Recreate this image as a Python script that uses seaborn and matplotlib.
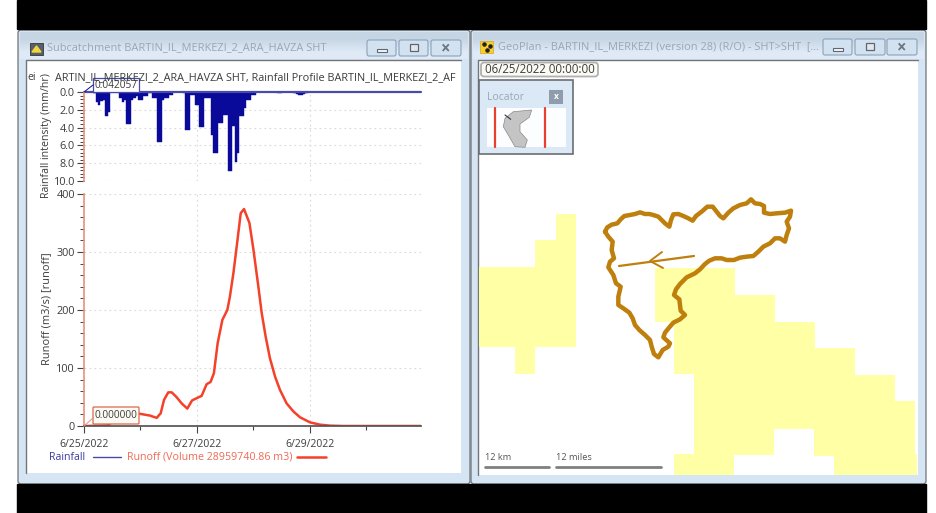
import matplotlib
matplotlib.use('Agg')
import numpy as np
import pandas as pd
import seaborn as sns
import matplotlib.pyplot as plt
from matplotlib.colors import LinearSegmentedColormap
from matplotlib.patches import FancyBboxPatch, Rectangle, Polygon
from matplotlib.ticker import MultipleLocator

# rainfall, one value per hour from 6/25/2022 00:00
rain_mm = [0, 0, 0, 0, 0.1, 1.1, 1.45, 1.0, 0.9, 2.65, 2.3, 0.05, 0, 0.05, 0.05,
           0.65, 1.1, 0.9, 3.6, 3.6, 0.9, 0.7, 0.5, 0.9, 0.9, 0.5, 0.5, 0.15, 0.15, 0.65,
           0.65, 5.6, 5.6, 0.9, 0.65, 0.65, 0.3, 0.3, 0, 0, 0, 0.05, 0.1, 4.25, 4.25,
           0.35, 0.35, 1.45, 1.45, 3.95, 3.95, 0.7, 0.7, 0.7, 4.8, 6.8, 6.8, 3.5, 3.5, 2.6,
           2.6, 8.9, 8.9, 3.8, 7.9, 6.8, 2.75, 2.75, 1.85, 0.9, 0.9, 0.3, 0.3, 0, 0,
           0, 0, 0, 0, 0, 0, 0, 0.1, 0.1, 0, 0, 0, 0, 0, 0.1, 0.2, 0.3, 0.3, 0.2, 0.1]
rain_hours = [h + 0.5 for h in range(len(rain_mm))]

# runoff hydrograph
runoff_hours = [0, 7, 10, 13, 16, 19, 23.8, 28, 30.9, 32.6, 34, 35.8, 37.3, 39.4, 41.5, 43.9,
                45.9, 47.9, 50, 52.1, 53.8, 55.2, 56.8, 58.8, 60.9, 62, 63.5, 64.9, 66.6, 68,
                70.3, 72, 74.1, 75.5, 77.2, 79, 81.2, 83.3, 86.1, 89, 91.8, 96, 100.3, 104.5,
                110.2, 143]
runoff_m3s = [0, 0.5, 1, 10, 20, 22, 21, 18, 14, 22, 45, 58, 58, 49.5, 39, 30,
              44, 48, 52, 72, 76, 91, 143, 183, 200, 223, 264, 310, 367, 374,
              350, 304, 240, 195, 154, 117, 85, 62, 39, 25, 15, 6.3, 2.3, 0.6,
              0, 0]

date_ticks = [0, 48, 96]
date_labels = ['6/25/2022', '6/27/2022', '6/29/2022']

# catchment outline traced at 3x, offset below to screen pixels
trace_x = [45, 52, 65, 82, 92, 103, 120, 135, 150, 165, 178, 190, 205, 215, 225, 238, 243, 250, 265,
           280, 295, 308, 318, 335, 352, 368, 380, 390, 400, 415, 430, 450, 470, 483, 495, 510, 522,
           522, 540, 560, 585, 603, 600, 590, 597, 590, 585, 570, 555, 540, 520, 505, 490, 470, 450,
           432, 410, 395, 375, 358, 345, 330, 315, 290, 270, 258, 252, 268, 270, 272, 285, 270, 250,
           238, 225, 220, 240, 235, 218, 205, 192, 185, 180, 165, 148, 135, 128, 118, 100, 85, 85,
           92, 78, 70, 55, 60, 72, 65, 68, 55, 45]
trace_y = [125, 112, 104, 100, 88, 78, 75, 72, 67, 72, 72, 75, 80, 90, 100, 110, 90, 73, 72,
           78, 85, 92, 78, 65, 50, 50, 65, 78, 85, 68, 55, 45, 40, 28, 40, 42, 48,
           68, 72, 70, 68, 62, 80, 95, 115, 135, 155, 145, 145, 160, 170, 185, 198, 200, 203,
           210, 210, 205, 205, 212, 222, 238, 250, 262, 282, 298, 315, 328, 345, 362, 375, 388, 398,
           412, 428, 442, 460, 470, 480, 502, 492, 470, 450, 435, 420, 405, 385, 368, 355, 345, 320,
           290, 280, 255, 232, 215, 205, 180, 155, 140, 125]
catch_x = 590 + np.array(trace_x) / 3
catch_y = 190 + np.array(trace_y) / 3

# map shapes, in screen pixels
reach_x = [619, 694]
reach_y = [266, 256]
barb_x = [662, 650, 663]
barb_y = [252, 261, 268]
yellow_left = [(479, 267), (535, 267), (535, 240), (556, 240), (556, 214), (576, 214), (576, 347),
               (535, 347), (535, 374), (515, 374), (515, 347), (479, 347)]
yellow_right = [(655, 268), (735, 268), (735, 295), (775, 295), (775, 322), (815, 322), (815, 348),
                (855, 348), (855, 375), (895, 375), (895, 401), (915, 401), (915, 454), (917, 454),
                (917, 475), (834, 475), (834, 456), (814, 456), (814, 429), (774, 429), (774, 455),
                (734, 455), (734, 475), (674, 475), (674, 454), (694, 454), (694, 374), (674, 374),
                (674, 322), (655, 322)]
locator_shape = [(513.3, 111.7), (531.7, 110), (529.3, 117.3), (520, 124), (520, 131.7), (527.3, 140),
                 (525, 147.3), (515, 146.7), (509.3, 136.7), (503.3, 126.7), (505, 118.3)]

W, H = 936, 513
NAVY = '#0a0a9a'
RED = '#f5402a'
SALMON = '#e8907c'
GOLD = '#bf7f0c'
TXT = '#3c3c3c'
FADE = '#9aa6b2'

sns.set_theme(style='white')
plt.rcParams['font.family'] = ['Open Sans', 'DejaVu Sans']
fig = plt.figure(figsize=(W / 100, H / 100), dpi=100)


def px_axes(x0, y0, x1, y1, z):
    return fig.add_axes([x0 / W, 1 - y1 / H, (x1 - x0) / W, (y1 - y0) / H], zorder=z)


# window furniture
bg = fig.add_axes([0, 0, 1, 1], zorder=0)
bg.axis('off')
title_cmap = LinearSegmentedColormap.from_list('t', ['#c6d5e4', '#dfeaf6'])


def window(x0, x1, inner0, inner1, inner_bottom, title, tx, buttons, ty):
    bg.add_patch(FancyBboxPatch((x0 + 3, 33), x1 - x0 - 6, 448, boxstyle='round,pad=3',
                                fc='#d6e5f3', ec='#6f7478', lw=0.9))
    bg.imshow([[0.0], [1.0]], extent=(x0 + 2, x1 - 2, 59, 32), aspect='auto', cmap=title_cmap,
              interpolation='bilinear', zorder=2)
    bg.add_patch(Rectangle((inner0, 60), inner1 - inner0, inner_bottom - 60, fc='white', ec='none', zorder=3))
    bg.plot([inner0, inner0, inner1], [inner_bottom, 60, 60], color='#72767a', lw=1, zorder=4)
    bg.text(tx, ty, title, color=FADE, fontsize=7.9, va='center', zorder=4)
    for bx0, bx1 in buttons:
        bg.add_patch(FancyBboxPatch((bx0 + 2, ty - 6), bx1 - bx0 - 4, 12, boxstyle='round,pad=2',
                                    fc='#d3e2f1', ec='#8aa2bb', lw=0.8, zorder=4))
    for (bx0, bx1), mark in zip(buttons, ['_', 'o', 'x']):
        cx = (bx0 + bx1) / 2
        if mark == '_':
            bg.add_patch(Rectangle((cx - 5, ty + 1), 10, 3, fc='#f4f7fa', ec='#5d6873', lw=0.8, zorder=5))
        elif mark == 'o':
            bg.add_patch(Rectangle((cx - 4, ty - 4), 8, 7, fc='#e4e8ec', ec='#5d6873', lw=0.9, zorder=5))
        else:
            bg.text(cx, ty, '×', color='#6b7680', fontsize=12, fontweight='bold',
                    ha='center', va='center', zorder=5)


window(18, 470, 26, 461, 473, 'Subcatchment BARTIN_IL_MERKEZI_2_ARA_HAVZA SHT', 47,
       [(367, 396), (399, 428), (431, 461)], 48)
window(471, 926, 478, 918, 475, 'GeoPlan - BARTIN_IL_MERKEZI (version 28) (R/O) - SHT>SHT  [...', 498,
       [(823, 852), (855, 885), (887, 917)], 47)
bg.add_patch(Rectangle((17, 0), 909, 29, color='black', zorder=6))
bg.add_patch(Rectangle((17, 484), 909, 29, color='black', zorder=6))
bg.set_xlim(0, W)
bg.set_ylim(H, 0)

# title bar icons
bg.add_patch(Rectangle((30, 43), 13, 12, fc='#54606c', ec='#333333', lw=0.6, zorder=5))
bg.add_patch(Polygon([(32, 52), (36.5, 46), (41, 52)], color='#f4d43a', zorder=6))
bg.add_patch(Rectangle((480, 41), 13, 12, fc='#f6cf2e', ec='#d9a514', lw=0.5, zorder=5))
bg.scatter([484, 490, 487], [44, 46, 50], s=5, color='#222222', zorder=6)

# map
map_ax = px_axes(479, 61, 918, 475, 1)
map_ax.set_xlim(479, 918)
map_ax.set_ylim(475, 61)
map_ax.axis('off')
map_ax.patch.set_alpha(0)
map_ax.add_patch(Polygon(yellow_left, fc='#ffffa6', ec='none'))
map_ax.add_patch(Polygon(yellow_right, fc='#ffffa6', ec='none'))
sns.lineplot(x=catch_x, y=catch_y, sort=False, estimator=None, color=GOLD, lw=3.2, ax=map_ax,
             solid_joinstyle='round')
sns.lineplot(x=reach_x, y=reach_y, sort=False, estimator=None, color=GOLD, lw=1.6, ax=map_ax)
sns.lineplot(x=barb_x, y=barb_y, sort=False, estimator=None, color=GOLD, lw=1.4, ax=map_ax)
map_ax.plot([485, 549], [467, 467], color='#808080', lw=2, clip_on=False)
map_ax.plot([556, 661], [467, 467], color='#808080', lw=2, clip_on=False)
map_ax.text(485, 458, '12 km', fontsize=6.6, color='#555555', va='center')
map_ax.text(556, 458, '12 miles', fontsize=6.7, color='#555555', va='center')

# locator and time stamp
over = fig.add_axes([0, 0, 1, 1], zorder=6)
over.set_xlim(0, W)
over.set_ylim(H, 0)
over.axis('off')
over.patch.set_alpha(0)
over.add_patch(Rectangle((479, 80), 94, 74, fc='#dbe8f6', ec='#6a6e72', lw=1.2))
over.add_patch(Rectangle((487, 108), 79, 39, fc='#fbfdff', ec='none'))
over.add_patch(Polygon(locator_shape, fc='#c4c4c4', ec='#8a8a8a', lw=0.5))
over.plot([505, 510.7], [115, 119.3], color='#333333', lw=0.8)
over.plot([495, 495], [108, 147], color='#e8402c', lw=1.6)
over.plot([544.5, 544.5], [108, 147], color='#e8402c', lw=1.6)
over.add_patch(Rectangle((549, 90), 14, 14, fc='#8f9cab', ec='none'))
over.text(556, 96.5, 'x', color='white', fontsize=6, fontweight='bold', ha='center', va='center')
over.text(487, 98, 'Locator', color=FADE, fontsize=7.5, va='center')
over.add_patch(FancyBboxPatch((484, 65.5), 111, 8, boxstyle='round,pad=3', fc='#fbfbf4',
                              ec='#b0b0b0', lw=1.3))
over.text(539.5, 69.5, '06/25/2022 00:00:00', color=TXT, fontsize=8.3, ha='center', va='center')

# rainfall panel
ax_rain = px_axes(84, 92, 421, 181, 2)
sns.barplot(x=rain_hours, y=rain_mm, native_scale=True, color=NAVY, saturation=1, width=1,
            edgecolor=NAVY, linewidth=0.3, ax=ax_rain)
ax_rain.set_xlim(0, 143.2)
ax_rain.set_ylim(10, 0)
ax_rain.set_xticks([])
ax_rain.yaxis.set_minor_locator(MultipleLocator(0.4))
ax_rain.set_yticks([0, 2, 4, 6, 8, 10], ['0.0', '2.0', '4.0', '6.0', '8.0', '10.0'])

# runoff panel
ax_run = px_axes(84, 194, 421, 426, 2)
sns.lineplot(x=runoff_hours, y=runoff_m3s, color=RED, lw=1.8, estimator=None, ax=ax_run)
ax_run.set_xlim(0, 143.2)
ax_run.set_ylim(0, 400)
ax_run.set_xticks(date_ticks, date_labels)
ax_run.xaxis.set_minor_locator(MultipleLocator(24))
ax_run.yaxis.set_major_locator(MultipleLocator(100))
ax_run.yaxis.set_minor_locator(MultipleLocator(20))

for ax in (ax_rain, ax_run):
    ax.patch.set_alpha(0)
    for side in ('top', 'right'):
        ax.spines[side].set_visible(False)
    ax.spines['left'].set_color(SALMON)
    ax.spines['left'].set_linewidth(1.2)
    ax.grid(True, which='major', color='#d8d8d8', lw=0.8, ls=(0, (1.5, 3)))
    ax.vlines(date_ticks[1:], *ax.get_ylim(), color='#d8d8d8', lw=0.8, ls=(0, (1.5, 3)), zorder=0)
    ax.tick_params(axis='y', which='major', left=True, length=5, width=0.8, color='#444444',
                   labelsize=7.8, labelcolor=TXT, pad=1.5)
    ax.tick_params(axis='y', which='minor', left=True, length=3, width=0.7, color='#444444')
ax_rain.spines['bottom'].set_visible(False)
ax_rain.grid(False, axis='x')
ax_rain.axhline(0, color='#4a4aa8', lw=1.6, clip_on=False)
ax_run.grid(False, axis='x')
ax_run.spines['bottom'].set_color('#555555')
ax_run.tick_params(axis='x', which='major', bottom=True, length=5, width=0.8, color='#444444',
                   labelsize=7.5, labelcolor=TXT, pad=4.5)
ax_run.tick_params(axis='x', which='minor', bottom=True, length=3, width=0.8, color='#444444')

over.text(47, 136, 'Rainfall intensity (mm/hr)', rotation=90, fontsize=7.7, color=TXT, ha='center', va='center')
over.text(47, 309, 'Runoff (m3/s) [runoff]', rotation=90, fontsize=7.9, color=TXT, ha='center', va='center')

# clipped chart title
over.text(27, 78, 'ei', fontsize=7.6, color=TXT, va='center')
over.text(55, 78, 'ARTIN_IL_MERKEZI_2_ARA_HAVZA SHT, Rainfall Profile BARTIN_IL_MERKEZI_2_AF',
          fontsize=7.87, color=TXT, va='center', clip_on=True,
          clip_path=Rectangle((27, 60), 431, 40, transform=over.transData))

# value callouts
over.plot([84, 93], [92, 85], color=NAVY, lw=0.7)
over.add_patch(Rectangle((93, 78), 46, 14, fc='white', ec='#4a4aa8', lw=0.9))
over.text(116, 85, '0.042057', fontsize=7.3, color=TXT, ha='center', va='center')
over.plot([84, 93], [426, 418], color=SALMON, lw=0.7)
over.add_patch(FancyBboxPatch((94, 408), 44, 15, boxstyle='round,pad=1', fc='#fbfbf4', ec='#d9694f', lw=0.9))
over.text(116, 416, '0.000000', fontsize=7.3, color=TXT, ha='center', va='center')

# legend
over.text(49, 457, 'Rainfall', fontsize=7.6, color='#3a3aa0', va='center')
over.plot([93, 121], [457, 457], color='#4a4aa8', lw=1)
over.text(127, 457, 'Runoff (Volume 28959740.86 m3)', fontsize=7.65, color='#ee6a55', va='center')
over.plot([297, 326], [457, 457], color=RED, lw=1.8)

fig.savefig('out.png', dpi=100)
